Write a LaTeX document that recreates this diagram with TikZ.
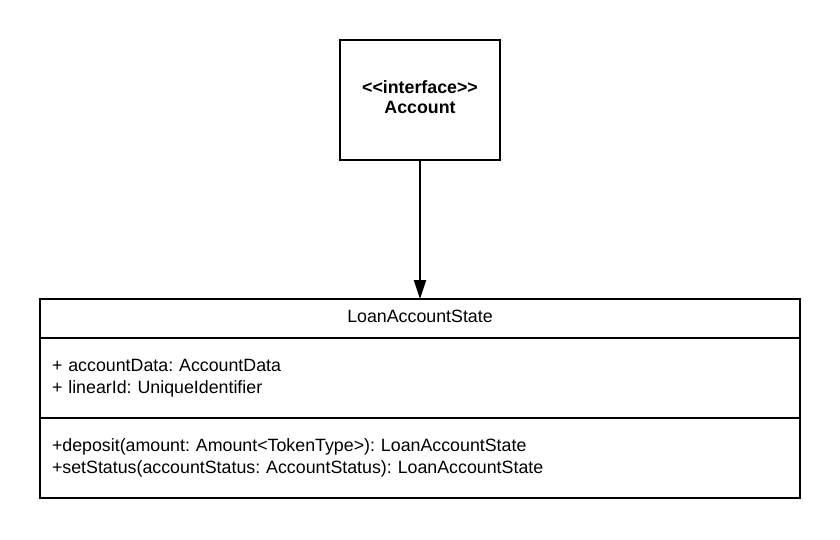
\documentclass[tikz,border=0pt]{standalone}
\usepackage{fontspec}
\setmainfont{Liberation Sans}
\usetikzlibrary{positioning,arrows.meta}
\frenchspacing

\begin{document}
\begin{tikzpicture}[x=1pt,y=-1pt]
	\tikzstyle{every node}=[draw,rectangle,line width=2pt,inner sep=0pt,outer sep=0pt,font=\fontsize{17.8}{21.6}\selectfont]
	\tikzstyle{row}=[minimum width=760pt,text width=736pt,inner xsep=12pt,align=left]
	\useasboundingbox (0,0) rectangle (840,539);

	\node[minimum width=160pt,minimum height=120pt] (account) at (420,100) {};
	\node[draw=none,align=center,yshift=2.7pt,font=\fontsize{17.8}{20}\selectfont\bfseries] (accountname) at (account.center) {<\kern0pt<interface>\kern0pt>\\Account};

	\node[row,align=center,minimum height=39pt,text height=13pt,text depth=4.5pt] (state) at (420,318.5) {LoanAccountState};
	\node[row,minimum height=80pt,below=0pt of state] (fields) {+ accountData: AccountData\\+ linearId: UniqueIdentifier};
	\node[row,minimum height=80pt,below=0pt of fields] (methods) {+deposit(amount: Amount<TokenType>): LoanAccountState\\+setStatus(accountStatus: AccountStatus): LoanAccountState};

	\draw[line width=2pt,-{Triangle[width=12pt,length=19pt]}] (account) -- (state);
\end{tikzpicture}
\end{document}
